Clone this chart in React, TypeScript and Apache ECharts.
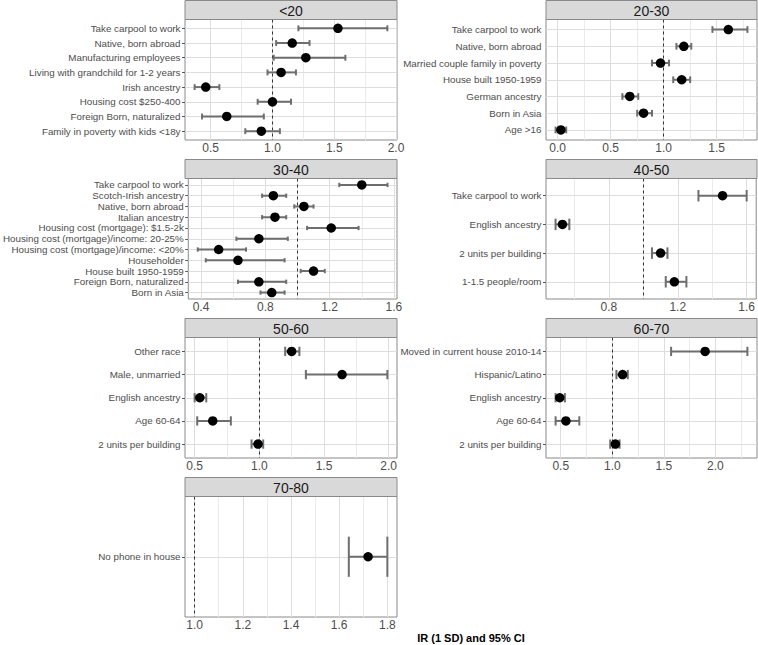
import React, { useEffect, useRef } from "react";
import * as echarts from "echarts";

// ---------- data ----------
const catLt20 = [
  "Take carpool to work",
  "Native, born abroad",
  "Manufacturing employees",
  "Living with grandchild for 1-2 years",
  "Irish ancestry",
  "Housing cost $250-400",
  "Foreign Born, naturalized",
  "Family in poverty with kids <18y",
];
const estLt20 = [1.53, 1.16, 1.27, 1.07, 0.46, 1.0, 0.63, 0.91];
const loLt20 = [1.21, 1.03, 1.01, 0.96, 0.37, 0.88, 0.43, 0.78];
const hiLt20 = [1.93, 1.3, 1.59, 1.19, 0.57, 1.15, 0.93, 1.06];
const ticksLt20 = [0.5, 1.0, 1.5, 2.0];

const cat2030 = [
  "Take carpool to work",
  "Native, born abroad",
  "Married couple family in poverty",
  "House built 1950-1959",
  "German ancestry",
  "Born in Asia",
  "Age >16",
];
const est2030 = [1.61, 1.19, 0.97, 1.17, 0.68, 0.81, 0.03];
const lo2030 = [1.46, 1.12, 0.89, 1.09, 0.61, 0.75, -0.02];
const hi2030 = [1.79, 1.26, 1.05, 1.25, 0.76, 0.89, 0.08];
const ticks2030 = [0.0, 0.5, 1.0, 1.5];

const cat3040 = [
  "Take carpool to work",
  "Scotch-Irish ancestry",
  "Native, born abroad",
  "Italian ancestry",
  "Housing cost (mortgage): $1.5-2k",
  "Housing cost (mortgage)/income: 20-25%",
  "Housing cost (mortgage)/income: <20%",
  "Householder",
  "House built 1950-1959",
  "Foreign Born, naturalized",
  "Born in Asia",
];
const est3040 = [1.4, 0.85, 1.04, 0.86, 1.21, 0.76, 0.51, 0.63, 1.1, 0.76, 0.84];
const lo3040 = [1.26, 0.78, 0.98, 0.78, 1.06, 0.62, 0.38, 0.43, 1.02, 0.63, 0.77];
const hi3040 = [1.56, 0.93, 1.1, 0.93, 1.38, 0.94, 0.68, 0.92, 1.17, 0.93, 0.92];
const ticks3040 = [0.4, 0.8, 1.2, 1.6];

const cat4050 = ["Take carpool to work", "English ancestry", "2 units per building", "1-1.5 people/room"];
const est4050 = [1.46, 0.53, 1.1, 1.18];
const lo4050 = [1.32, 0.49, 1.05, 1.13];
const hi4050 = [1.6, 0.57, 1.14, 1.25];
const ticks4050 = [0.8, 1.2, 1.6];

const cat5060 = ["Other race", "Male, unmarried", "English ancestry", "Age 60-64", "2 units per building"];
const est5060 = [1.25, 1.64, 0.54, 0.64, 0.99];
const lo5060 = [1.2, 1.36, 0.5, 0.52, 0.94];
const hi5060 = [1.31, 1.99, 0.59, 0.78, 1.03];
const ticks5060 = [0.5, 1.0, 1.5, 2.0];

const cat6070 = [
  "Moved in current house 2010-14",
  "Hispanic/Latino",
  "English ancestry",
  "Age 60-64",
  "2 units per building",
];
const est6070 = [1.9, 1.1, 0.49, 0.55, 1.03];
const lo6070 = [1.57, 1.04, 0.45, 0.45, 0.98];
const hi6070 = [2.31, 1.15, 0.54, 0.68, 1.07];
const ticks6070 = [0.5, 1.0, 1.5, 2.0];

const cat7080 = ["No phone in house"];
const est7080 = [1.72];
const lo7080 = [1.64];
const hi7080 = [1.8];
const ticks7080 = [1.0, 1.2, 1.4, 1.6, 1.8];

const panelTitles = ["<20", "20-30", "30-40", "40-50", "50-60", "60-70", "70-80"];
const refLine = 1.0;
const xTitle = "IR (1 SD) and 95% CI";

// ---------- layout ----------
const FONT = "'Liberation Sans', Arial, sans-serif";
const COL_LEFT = [185, 546];
const COL_WIDTH = [212, 211];
const ROW_TOP = [0.5, 159.5, 318.5, 477.5];
const STRIP_H = 19;
const PLOT_H = 120.5;
const BORDER = "#8a8a8a";
const GRID_MAJOR = "#dedede";
const GRID_MINOR = "#ebebeb";
const BAR_C = "#6e6e6e";

function buildOption() {
  const panels = [
    { cats: catLt20, est: estLt20, lo: loLt20, hi: hiLt20, ticks: ticksLt20 },
    { cats: cat2030, est: est2030, lo: lo2030, hi: hi2030, ticks: ticks2030 },
    { cats: cat3040, est: est3040, lo: lo3040, hi: hi3040, ticks: ticks3040 },
    { cats: cat4050, est: est4050, lo: lo4050, hi: hi4050, ticks: ticks4050 },
    { cats: cat5060, est: est5060, lo: lo5060, hi: hi5060, ticks: ticks5060 },
    { cats: cat6070, est: est6070, lo: lo6070, hi: hi6070, ticks: ticks6070 },
    { cats: cat7080, est: est7080, lo: lo7080, hi: hi7080, ticks: ticks7080 },
  ];
  const grid: any[] = [];
  const xAxis: any[] = [];
  const yAxis: any[] = [];
  const series: any[] = [];
  const graphic: any[] = [];

  panels.forEach((p, i) => {
    const col = i % 2;
    const row = Math.floor(i / 2);
    const left = COL_LEFT[col];
    const width = COL_WIDTH[col];
    const stripTop = ROW_TOP[row];
    const top = stripTop + STRIP_H;
    const n = p.cats.length;
    const idx = p.cats.map((_, k) => k);

    const vals = [...p.lo, ...p.hi, refLine];
    const mn = Math.min(...vals);
    const mx = Math.max(...vals);
    const pad = (mx - mn) * 0.05;
    const xmin = mn - pad;
    const xmax = mx + pad;
    const ymin = -0.6;
    const ymax = n - 1 + 0.6;

    // minor breaks: midpoints, extended one step each side
    const step = p.ticks[1] - p.ticks[0];
    const ext = [p.ticks[0] - step, ...p.ticks, p.ticks[p.ticks.length - 1] + step];
    const minor: number[] = [];
    for (let k = 0; k < ext.length - 1; k++) {
      const m = (ext[k] + ext[k + 1]) / 2;
      if (m > xmin && m < xmax) minor.push(m);
    }

    grid.push({
      left,
      top,
      width,
      height: PLOT_H,
      show: true,
      backgroundColor: "#fff",
      borderColor: BORDER,
      borderWidth: 1,
    });
    xAxis.push({
      gridIndex: i,
      type: "value",
      min: xmin,
      max: xmax,
      axisLine: { show: false },
      axisTick: { show: true, customValues: p.ticks, length: 3, lineStyle: { color: "#555" } },
      axisLabel: {
        customValues: p.ticks,
        formatter: (v: number) => v.toFixed(1),
        fontSize: 12,
        color: "#4d4d4d",
        margin: 2,
        fontFamily: FONT,
      },
      splitLine: { show: false },
    });
    yAxis.push({
      gridIndex: i,
      type: "value",
      inverse: true,
      min: ymin,
      max: ymax,
      axisLine: { show: false },
      axisTick: { show: true, customValues: idx, length: 3, lineStyle: { color: "#555" } },
      axisLabel: {
        customValues: idx,
        formatter: (v: number) => p.cats[Math.round(v)] ?? "",
        fontSize: 9.8,
        color: "#4d4d4d",
        margin: 4.5,
        fontFamily: FONT,
      },
      splitLine: { show: false },
    });

    // background grid lines + reference line as markLines on an invisible line series
    const mlData: any[] = [];
    minor.forEach((m) => mlData.push({ xAxis: m, lineStyle: { color: GRID_MINOR, width: 1, type: "solid" } }));
    p.ticks.forEach((t) => mlData.push({ xAxis: t, lineStyle: { color: GRID_MAJOR, width: 1, type: "solid" } }));
    idx.forEach((k) => mlData.push({ yAxis: k, lineStyle: { color: GRID_MAJOR, width: 1, type: "solid" } }));
    mlData.push({ xAxis: refLine, lineStyle: { color: "#333", width: 1, type: [3, 3] } });

    series.push({
      type: "line",
      xAxisIndex: i,
      yAxisIndex: i,
      silent: true,
      z: 1,
      symbol: "none",
      lineStyle: { opacity: 0 },
      data: [[refLine, 0]],
      markLine: {
        z: 1,
        silent: true,
        symbol: ["none", "none"],
        label: { show: false },
        emphasis: { disabled: true },
        animation: false,
        data: mlData,
      },
    });

    series.push({
      type: "custom",
      xAxisIndex: i,
      yAxisIndex: i,
      silent: true,
      z: 6,
      encode: { x: [1, 2], y: 0 },
      data: idx.map((k) => [k, p.lo[k], p.hi[k]]),
      renderItem: (_params: any, api: any) => {
        const y = api.value(0);
        const a = api.coord([api.value(1), y]);
        const b = api.coord([api.value(2), y]);
        const h = Math.abs(api.size([0, 0.2])[1]);
        const st = { stroke: BAR_C, lineWidth: 2 };
        return {
          type: "group",
          children: [
            { type: "line", shape: { x1: a[0], y1: a[1], x2: b[0], y2: b[1] }, style: st },
            { type: "line", shape: { x1: a[0], y1: a[1] - h, x2: a[0], y2: a[1] + h }, style: st },
            { type: "line", shape: { x1: b[0], y1: b[1] - h, x2: b[0], y2: b[1] + h }, style: st },
          ],
        };
      },
    });

    series.push({
      type: "scatter",
      xAxisIndex: i,
      yAxisIndex: i,
      silent: true,
      z: 7,
      symbol: "circle",
      symbolSize: 9.5,
      itemStyle: { color: "#000", opacity: 1 },
      data: idx.map((k) => [p.est[k], k]),
    });

    graphic.push({
      type: "rect",
      shape: { x: left, y: stripTop, width, height: STRIP_H },
      style: { fill: "#d9d9d9", stroke: BORDER, lineWidth: 1 },
      z: 10,
    });
    graphic.push({
      type: "text",
      x: left + width / 2,
      y: stripTop + STRIP_H / 2 + 0.5,
      style: {
        text: panelTitles[i],
        fontSize: 14,
        fontFamily: FONT,
        fill: "#1a1a1a",
        textAlign: "center",
        textVerticalAlign: "middle",
      },
      z: 11,
    });
  });

  graphic.push({
    type: "text",
    x: 471,
    y: 638,
    style: {
      text: xTitle,
      fontSize: 11,
      fontWeight: "bold",
      fontFamily: FONT,
      fill: "#000",
      textAlign: "center",
      textVerticalAlign: "middle",
    },
  });

  return {
    animation: false,
    backgroundColor: "#fff",
    grid,
    xAxis,
    yAxis,
    series,
    graphic,
  };
}

export default function App() {
  const ref = useRef<HTMLDivElement>(null);
  useEffect(() => {
    if (!ref.current) return;
    const chart = echarts.init(ref.current, undefined, { renderer: "svg" });
    chart.setOption(buildOption() as any);
    return () => chart.dispose();
  }, []);
  return (
    <div
      ref={ref}
      style={{ position: "absolute", left: 0, top: 0, width: 758, height: 645, background: "#fff" }}
    />
  );
}
